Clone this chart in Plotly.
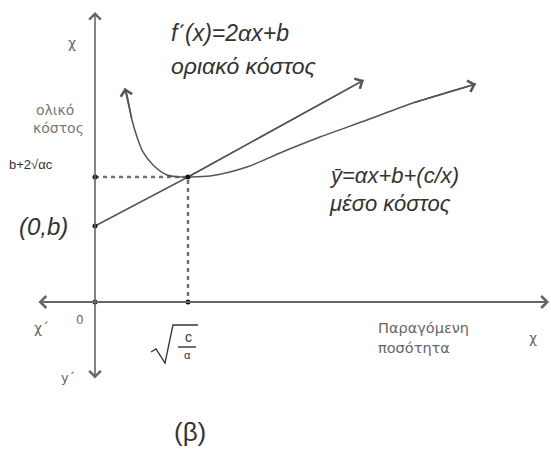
import plotly.graph_objects as go

W, H = 551, 452
# pixel frame: origin at (95,302); 93 px per x-unit, 76 px per y-unit
X0, Y0, SX, SY = 95, 302, 93, 76

# ---- data (in units where sqrt(c/a)=1 and b=1) ----
mc_x = [0.0, 1.0, 2.89]
mc_y = [1.0, 1.645, 2.92]

ac_x = [0.32, 0.344, 0.398, 0.452, 0.516, 0.624, 0.774, 0.914, 1.0,
        1.237, 1.634, 1.989, 2.419, 2.925, 3.419, 4.097]
ac_y = [2.816, 2.724, 2.395, 2.171, 1.974, 1.803, 1.671, 1.645, 1.645,
        1.658, 1.776, 1.961, 2.171, 2.395, 2.618, 2.868]

pts_x = [0.0, 1.0, 0.0, 0.0, 1.0]
pts_y = [0.0, 0.0, 1.0, 1.645, 1.645]

tangent_x, tangent_y = 1.0, 1.645
axis_x_min, axis_x_max = -0.624, 4.882
axis_y_min, axis_y_max = -1.026, 3.816

LINE = "#555555"
TEXT = "#333333"
GRAY = "#666666"


def P(px, py):
    return px / W, 1 - py / H


fig = go.Figure()

# dotted guides
fig.add_trace(go.Scatter(x=[0, tangent_x, tangent_x], y=[tangent_y, tangent_y, 0],
                         mode="lines", line=dict(color="#707070", width=2.5, dash="4px,4px"),
                         hoverinfo="skip"))
# marginal cost line
fig.add_trace(go.Scatter(x=mc_x, y=mc_y, mode="lines",
                         line=dict(color=LINE, width=1.5), hoverinfo="skip"))
# average cost curve
fig.add_trace(go.Scatter(x=ac_x, y=ac_y, mode="lines",
                         line=dict(color=LINE, width=1.5, shape="spline", smoothing=0.8),
                         hoverinfo="skip"))
# points
fig.add_trace(go.Scatter(x=pts_x, y=pts_y, mode="markers",
                         marker=dict(color="#111111", size=5), hoverinfo="skip"))

anns = []


def arrow(x, y, ax, ay, side="end", width=1.5, color=LINE, size=1.5):
    anns.append(dict(x=x, y=y, ax=ax, ay=ay, xref="x", yref="y", axref="x", ayref="y",
                     text="", showarrow=True, arrowhead=4, arrowsize=size,
                     arrowwidth=width, arrowcolor=color, arrowside=side,
                     startarrowhead=4, startarrowsize=size, standoff=0, startstandoff=0))


# axes
arrow(axis_x_max, 0, axis_x_min, 0, side="end+start", width=2, color="#666666", size=1.15)
arrow(0, axis_y_max, 0, axis_y_min, side="end+start", width=1.6, color="#666666", size=1.4)
# curve arrowheads
arrow(mc_x[-1], mc_y[-1], mc_x[-2], mc_y[-2])
arrow(ac_x[-1], ac_y[-1], ac_x[-2], ac_y[-2])
arrow(ac_x[0], ac_y[0], ac_x[2], ac_y[2])


def txt(s, px, py, size, color=TEXT, xanchor="center", family="Liberation Sans, Arial, sans-serif"):
    x, y = P(px, py)
    anns.append(dict(x=x, y=y, xref="paper", yref="paper", text=s, showarrow=False,
                     xanchor=xanchor, yanchor="middle",
                     font=dict(size=size, color=color, family=family)))


DJ = "DejaVu Sans, sans-serif"
txt("<i>f΄(x)=2αx+b</i>", 169, 33, 23, xanchor="left")
txt("<i>οριακό κόστος</i>", 169, 66, 23, xanchor="left")
txt("<i>ȳ=αx+b+(c/x)</i>", 327, 175, 22, xanchor="left")
txt("<i>μέσο κόστος</i>", 327, 203, 22, xanchor="left")
txt("<i>(0,b)</i>", 43, 227, 24)
txt("ολικό", 55, 110, 14, color="#777777", family=DJ)
txt("κόστος", 58, 128, 14, color="#777777", family=DJ)
txt("b+2√αc", 7, 165, 13, xanchor="left")
txt("χ", 72, 43, 14, color=GRAY, family=DJ)
txt("0", 80, 320, 12, color=GRAY, family=DJ)
txt("χ΄", 41, 328, 14, color=GRAY, family=DJ)
txt("y΄", 68, 377, 13, color=GRAY, family=DJ)
txt("χ", 533, 338, 14, color=GRAY, family=DJ)
txt("Παραγόμενη", 376, 328, 14.5, color=GRAY, xanchor="left", family=DJ)
txt("ποσότητα", 376, 348, 14.5, color=GRAY, xanchor="left", family=DJ)
txt("(β)", 190, 432, 26)
# sqrt(c/α)
txt("c", 188, 337, 14)
txt("α", 187, 355, 11)

shapes = []
pts = [(151, 352), (156, 349), (165, 363), (173, 325), (198, 325)]
path = "M " + " L ".join(f"{P(a, b)[0]:.5f},{P(a, b)[1]:.5f}" for a, b in pts)
shapes.append(dict(type="path", path=path, xref="paper", yref="paper",
                   line=dict(color=TEXT, width=1.3)))
x1, y1 = P(178, 347)
x2, y2 = P(196, 347)
shapes.append(dict(type="line", x0=x1, y0=y1, x1=x2, y1=y2, xref="paper", yref="paper",
                   line=dict(color=TEXT, width=1.4)))

fig.update_layout(
    width=W, height=H, autosize=False,
    margin=dict(l=0, r=0, t=0, b=0),
    paper_bgcolor="white", plot_bgcolor="white",
    showlegend=False,
    xaxis=dict(range=[-X0 / SX, (W - X0) / SX], visible=False, fixedrange=True),
    yaxis=dict(range=[-(H - Y0) / SY, Y0 / SY], visible=False, fixedrange=True),
    annotations=anns, shapes=shapes,
)

fig.write_html("out.html", config={"displayModeBar": False},
               post_script="document.body.style.margin='0';document.body.style.overflow='hidden';")
